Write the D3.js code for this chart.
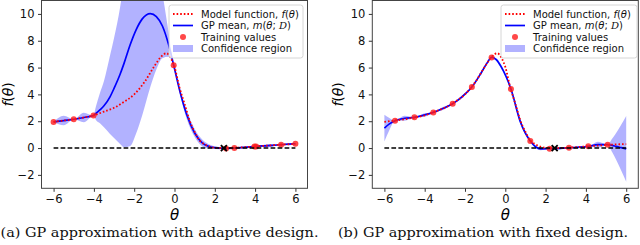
<!DOCTYPE html>
<html lang="en">
<head>
<meta charset="UTF-8">
<title>GP approximation</title>
<script src="https://d3js.org/d3.v7.min.js"></script>
<style>
  body { margin: 0; background: #fff; }
  svg { display: block; }
  .tick text { font-family: 'DejaVu Sans', sans-serif; font-size: 11.5px; fill: #111; }
  .tick line { stroke: #333; }
  .domain { display: none; }
  .lg text { font-family: 'DejaVu Sans', sans-serif; font-size: 10px; fill: #111; }
  .cap { font-family: 'DejaVu Serif', serif; font-size: 13px; fill: #111; }
</style>
</head>
<body>
<div id="chart"></div>
<script>
// model function f(theta), shared by both panels
const thetaModel = [-6, -5.5, -5, -4.5, -4, -3.5, -3, -2.5, -2, -1.5, -1, -0.7, -0.4, -0.2, 0, 0.25, 0.5, 0.75, 1, 1.25, 1.5, 1.75, 2, 2.5, 3, 3.5, 4, 4.5, 5, 5.5, 6];
const fModel = [1.95, 2.05, 2.15, 2.28, 2.43, 2.72, 3.0, 3.45, 4.0, 4.9, 6.1, 6.75, 7.07, 6.75, 6.05, 4.5, 3.3, 2.05, 1.2, 0.55, 0.28, 0.1, 0.02, 0.0, 0.02, 0.07, 0.12, 0.17, 0.23, 0.27, 0.3];

// (a) adaptive design
const thetaA = [-6, -5.5, -5, -4.5, -4.02, -3.9, -3.7, -3.5, -3.2, -3.0, -2.7, -2.5, -2.2, -1.9, -1.6, -1.2, -0.9, -0.6, -0.3, -0.04, 0.3, 0.6, 1.0, 1.4, 1.8, 2.2, 2.56, 2.97, 3.5, 4.0, 4.65, 5.29, 5.65, 6.0];
const meanA = [1.95, 2.05, 2.15, 2.28, 2.43, 2.58, 2.85, 3.15, 3.82, 4.45, 5.5, 6.33, 7.7, 8.83, 9.63, 10.02, 9.8, 9.1, 7.75, 6.17, 4.05, 2.52, 1.12, 0.35, 0.08, 0.0, -0.03, 0.0, 0.05, 0.12, 0.18, 0.25, 0.29, 0.32];
const lowA = [1.95, 1.7, 2.15, 1.92, 2.43, 2.1, 1.85, 1.55, 1.05, 0.75, 0.3, 0.06, 0.15, 1.1, 2.45, 4.55, 5.85, 6.7, 6.8, 6.17, 3.85, 2.2, 0.82, 0.1, -0.06, -0.08, -0.03, 0.0, -0.04, 0.12, 0.06, 0.25, 0.2, 0.32];
const highA = [1.95, 2.4, 2.15, 2.64, 2.43, 3.1, 4.1, 5.0, 6.9, 8.2, 10.5, 12.5, 15, 16.5, 16.8, 15.5, 13.7, 11.5, 8.7, 6.17, 4.25, 2.85, 1.42, 0.6, 0.22, 0.08, -0.03, 0.0, 0.14, 0.12, 0.3, 0.25, 0.38, 0.32];
const trainThetaA = [-6, -5, -4.02, -0.04, 2.56, 2.97, 3.97, 4.05, 5.29, 6.0];
const trainA = [1.95, 2.15, 2.43, 6.17, -0.03, 0.0, 0.12, 0.12, 0.25, 0.32];

// (b) fixed design
const thetaB = [-6, -5.75, -5.47, -5.0, -4.51, -4.05, -3.57, -3.1, -2.61, -2.15, -1.66, -1.2, -0.9, -0.68, -0.45, -0.2, 0.28, 0.75, 1.24, 1.5, 1.75, 2.2, 2.7, 3.16, 3.6, 4.12, 4.6, 5.08, 5.3, 5.5, 5.75, 6.0];
const meanB = [1.49, 1.8, 2.04, 2.22, 2.29, 2.45, 2.66, 2.95, 3.31, 3.82, 4.55, 5.6, 6.35, 6.76, 6.6, 6.05, 4.4, 1.95, 0.52, 0.1, -0.06, -0.05, -0.02, 0.02, 0.06, 0.13, 0.25, 0.25, 0.2, 0.12, 0.03, -0.06];
const lowB = [0.49, 1.35, 2.04, 2.04, 2.29, 2.33, 2.66, 2.83, 3.31, 3.7, 4.55, 5.48, 6.29, 6.76, 6.5, 5.9, 4.4, 1.8, 0.52, 0.02, -0.16, -0.05, -0.1, 0.02, -0.04, 0.13, 0.03, 0.25, -0.3, -0.88, -1.67, -2.51];
const highB = [2.49, 2.25, 2.04, 2.4, 2.29, 2.57, 2.66, 3.07, 3.31, 3.94, 4.55, 5.72, 6.41, 6.76, 6.7, 6.2, 4.4, 2.1, 0.52, 0.18, 0.04, -0.05, 0.06, 0.02, 0.16, 0.13, 0.47, 0.25, 0.7, 1.12, 1.73, 2.39];
const trainThetaB = [-5.47, -4.51, -3.57, -2.61, -1.66, -0.68, 0.28, 1.24, 2.2, 3.16, 4.12, 5.08];
const trainB = [2.04, 2.29, 2.66, 3.31, 4.55, 6.76, 4.4, 0.52, -0.05, 0.02, 0.13, 0.25];

const trueTheta = 2.45;
const xTicks = [-6, -4, -2, 0, 2, 4, 6];
const yTicks = [-2, 0, 2, 4, 6, 8, 10];
const legendLabels = ["Model function", "GP mean", "Training values", "Confidence region"];
const captions = ["(a) GP approximation with adaptive design.", "(b) GP approximation with fixed design."];

const W = 640, H = 245;
const svg = d3.select("#chart").append("svg").attr("width", W).attr("height", H);

const fmt = d => d < 0 ? "\u2212" + Math.abs(d) : "" + d;

function drawPanel(p) {
    const x = d3.scaleLinear().domain([-6.6, 6.6]).range([p.left, p.right]);
    const y = d3.scaleLinear().domain([-3, 11]).range([188.3, 0.5]);
    const g = svg.append("g");

    g.append("clipPath").attr("id", "clip" + p.id)
        .append("rect").attr("x", p.left).attr("y", 0.5)
        .attr("width", p.right - p.left).attr("height", 187.8);

    const plot = g.append("g").attr("clip-path", `url(#clip${p.id})`);

    const area = d3.area().curve(d3.curveMonotoneX)
        .x((d, i) => x(p.theta[i]))
        .y0((d, i) => y(p.low[i]))
        .y1((d, i) => y(p.high[i]));
    plot.append("path").datum(p.theta).attr("d", area)
        .attr("fill", "#0000ff").attr("fill-opacity", 0.3);

    const line = d3.line().curve(d3.curveMonotoneX);
    plot.append("path")
        .attr("d", line(p.theta.map((t, i) => [x(t), y(p.mean[i])])))
        .attr("fill", "none").attr("stroke", "#0000ff").attr("stroke-width", 1.7);

    plot.append("path")
        .attr("d", line(thetaModel.map((t, i) => [x(t), y(fModel[i])])))
        .attr("fill", "none").attr("stroke", "#ff0000").attr("stroke-width", 1.8)
        .attr("stroke-dasharray", "1.6,2");

    plot.selectAll("circle.tr").data(p.trainTheta).join("circle")
        .attr("class", "tr")
        .attr("cx", d => x(d)).attr("cy", (d, i) => y(p.train[i]))
        .attr("r", 3).attr("fill", "#ff1a1a").attr("fill-opacity", 0.8);

    plot.append("line")
        .attr("x1", x(-6)).attr("x2", x(6)).attr("y1", y(0)).attr("y2", y(0))
        .attr("stroke", "#000").attr("stroke-width", 1.5).attr("stroke-dasharray", "4.7,2.3");

    const cx = x(trueTheta), cy = y(0), s = 3;
    plot.append("path")
        .attr("d", `M${cx - s},${cy - s}L${cx + s},${cy + s}M${cx - s},${cy + s}L${cx + s},${cy - s}`)
        .attr("stroke", "#000").attr("stroke-width", 1.8);

    // frame
    g.append("rect").attr("x", p.left).attr("y", 0.5)
        .attr("width", p.right - p.left).attr("height", 187.8)
        .attr("fill", "none").attr("stroke", "#444").attr("stroke-width", 1);

    g.append("g").attr("transform", "translate(0,188.3)")
        .call(d3.axisBottom(x).tickValues(xTicks).tickFormat(fmt).tickSize(3.5).tickPadding(3));
    g.append("g").attr("transform", `translate(${p.left},0)`)
        .call(d3.axisLeft(y).tickValues(yTicks).tickFormat(fmt).tickSize(3.5).tickPadding(3.5));

    // axis labels
    g.append("text").attr("x", (p.left + p.right) / 2).attr("y", 220)
        .attr("text-anchor", "middle")
        .style("font-family", "'DejaVu Sans', sans-serif").style("font-size", "15px")
        .style("font-style", "italic").text("\u03b8");
    g.append("text")
        .attr("transform", `translate(${p.left - 29},94.4) rotate(-90)`)
        .attr("text-anchor", "middle")
        .style("font-family", "'DejaVu Sans', sans-serif").style("font-size", "14px")
        .html("<tspan font-style='italic'>f</tspan>(<tspan font-style='italic'>\u03b8</tspan>)");

    // legend
    const lg = g.append("g").attr("class", "lg").attr("transform", `translate(${p.legX},5)`);
    lg.append("rect").attr("width", p.legW).attr("height", 53).attr("rx", 2.5)
        .attr("fill", "#fff").attr("fill-opacity", 0.8).attr("stroke", "#ccc").attr("stroke-width", 0.8);
    const rows = [9, 20.5, 32, 43.5];
    lg.append("line").attr("x1", 4).attr("x2", 24).attr("y1", rows[0]).attr("y2", rows[0])
        .attr("stroke", "#ff0000").attr("stroke-width", 1.8).attr("stroke-dasharray", "1.6,2");
    lg.append("line").attr("x1", 4).attr("x2", 24).attr("y1", rows[1]).attr("y2", rows[1])
        .attr("stroke", "#0000ff").attr("stroke-width", 1.7);
    lg.append("circle").attr("cx", 14).attr("cy", rows[2]).attr("r", 3)
        .attr("fill", "#ff1a1a").attr("fill-opacity", 0.8);
    lg.append("rect").attr("x", 4).attr("y", rows[3] - 3.5).attr("width", 20).attr("height", 7)
        .attr("fill", "#0000ff").attr("fill-opacity", 0.3);
    const tx = 32;
    lg.append("text").attr("x", tx).attr("y", rows[0] + 3.6)
        .html(legendLabels[0] + ", <tspan font-style='italic'>f</tspan>(<tspan font-style='italic'>\u03b8</tspan>)");
    lg.append("text").attr("x", tx).attr("y", rows[1] + 3.6)
        .html(legendLabels[1] + ", <tspan font-style='italic'>m</tspan>(<tspan font-style='italic'>\u03b8</tspan>; <tspan font-style='italic' font-family='DejaVu Serif'>D</tspan>)");
    lg.append("text").attr("x", tx).attr("y", rows[2] + 3.6).text(legendLabels[2]);
    lg.append("text").attr("x", tx).attr("y", rows[3] + 3.6).text(legendLabels[3]);

    // caption
    g.append("text").attr("class", "cap")
        .attr("x", p.capX).attr("y", 236.7)
        .attr("textLength", p.capW).attr("lengthAdjust", "spacingAndGlyphs")
        .text(p.caption);
}

drawPanel({
    id: "a", left: 41.5, right: 307.5, theta: thetaA, mean: meanA, low: lowA, high: highA,
    trainTheta: trainThetaA, train: trainA, legX: 169, legW: 134,
    caption: captions[0], capX: 0.5, capW: 318
});
drawPanel({
    id: "b", left: 372.3, right: 638.3, theta: thetaB, mean: meanB, low: lowB, high: highB,
    trainTheta: trainThetaB, train: trainB, legX: 501, legW: 136,
    caption: captions[1], capX: 338, capW: 290
});
</script>
</body>
</html>
